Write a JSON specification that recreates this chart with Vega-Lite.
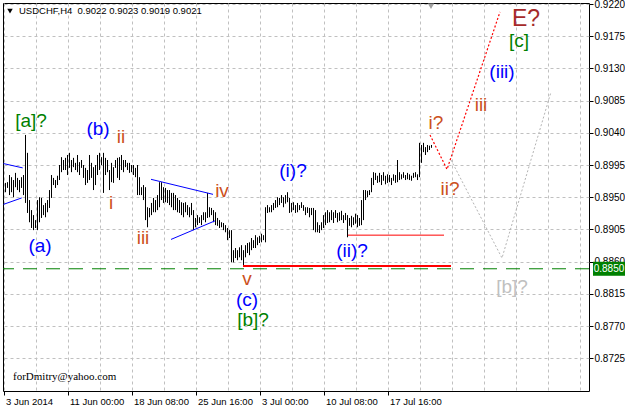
{
"$schema":"https://vega.github.io/schema/vega-lite/v6.json",
"width":586,"height":388,
"padding":{"left":3,"top":3,"right":36,"bottom":16},
"autosize":{"type":"none"},
"background":"white",
"config":{"view":{"stroke":"black","strokeWidth":1}},
"resolve":{"axis":{"x":"independent","y":"independent"},"scale":{"color":"independent"}},
"datasets":{
"bars":[
{"i":1,"h":0.8970,"l":0.8957},{"i":2,"h":0.8971,"l":0.8963},{"i":3,"h":0.8981,"l":0.8953},{"i":4,"h":0.8978,"l":0.8957},{"i":5,"h":0.8974,"l":0.8950},{"i":6,"h":0.8984,"l":0.8964},{"i":7,"h":0.8977,"l":0.8960},{"i":8,"h":0.8974,"l":0.8957},{"i":9,"h":0.8978,"l":0.8963},{"i":10,"h":0.8981,"l":0.8953},
{"i":11,"h":0.9037,"l":0.8942},{"i":12,"h":0.9012,"l":0.8928},{"i":13,"h":0.8946,"l":0.8915},{"i":14,"h":0.8932,"l":0.8907},{"i":15,"h":0.8925,"l":0.8904},{"i":16,"h":0.8918,"l":0.8907},{"i":17,"h":0.8946,"l":0.8904},{"i":18,"h":0.8950,"l":0.8915},{"i":19,"h":0.8949,"l":0.8921},{"i":20,"h":0.8939,"l":0.8925},
{"i":21,"h":0.8942,"l":0.8922},{"i":22,"h":0.8946,"l":0.8929},{"i":23,"h":0.8960,"l":0.8935},{"i":24,"h":0.8981,"l":0.8949},{"i":25,"h":0.8977,"l":0.8967},{"i":26,"h":0.8974,"l":0.8963},{"i":27,"h":0.8980,"l":0.8967},{"i":28,"h":0.8995,"l":0.8974},{"i":29,"h":0.9006,"l":0.8985},{"i":30,"h":0.9002,"l":0.8988},
{"i":31,"h":0.9005,"l":0.8988},{"i":32,"h":0.9009,"l":0.8981},{"i":33,"h":0.9012,"l":0.8991},{"i":34,"h":0.9002,"l":0.8985},{"i":35,"h":0.9005,"l":0.8992},{"i":36,"h":0.8998,"l":0.8988},{"i":37,"h":0.9009,"l":0.8985},{"i":38,"h":0.8999,"l":0.8981},{"i":39,"h":0.9002,"l":0.8991},{"i":40,"h":0.8995,"l":0.8977},
{"i":41,"h":0.8991,"l":0.8967},{"i":42,"h":0.8988,"l":0.8970},{"i":43,"h":0.9009,"l":0.8974},{"i":44,"h":0.8998,"l":0.8977},{"i":45,"h":0.8992,"l":0.8960},{"i":46,"h":0.8995,"l":0.8967},{"i":47,"h":0.9009,"l":0.8981},{"i":48,"h":0.9012,"l":0.8988},{"i":49,"h":0.9006,"l":0.8995},{"i":50,"h":0.9012,"l":0.8956},
{"i":51,"h":0.9005,"l":0.8981},{"i":52,"h":0.9002,"l":0.8985},{"i":53,"h":0.8988,"l":0.8960},{"i":54,"h":0.8998,"l":0.8971},{"i":55,"h":0.8992,"l":0.8970},{"i":56,"h":0.9002,"l":0.8991},{"i":57,"h":0.9005,"l":0.8977},{"i":58,"h":0.9006,"l":0.8974},{"i":59,"h":0.9009,"l":0.8988},{"i":60,"h":0.9002,"l":0.8985},
{"i":61,"h":0.9002,"l":0.8992},{"i":62,"h":0.8998,"l":0.8988},{"i":63,"h":0.8998,"l":0.8984},{"i":64,"h":0.8995,"l":0.8985},{"i":65,"h":0.8995,"l":0.8981},{"i":66,"h":0.8991,"l":0.8978},{"i":67,"h":0.8995,"l":0.8953},{"i":68,"h":0.8978,"l":0.8953},{"i":69,"h":0.8964,"l":0.8953},{"i":70,"h":0.8967,"l":0.8946},
{"i":71,"h":0.8964,"l":0.8918},{"i":72,"h":0.8936,"l":0.8908},{"i":73,"h":0.8935,"l":0.8922},{"i":74,"h":0.8942,"l":0.8925},{"i":75,"h":0.8949,"l":0.8929},{"i":76,"h":0.8946,"l":0.8929},{"i":77,"h":0.8953,"l":0.8932},{"i":78,"h":0.8971,"l":0.8936},{"i":79,"h":0.8971,"l":0.8946},{"i":80,"h":0.8964,"l":0.8942},
{"i":81,"h":0.8963,"l":0.8943},{"i":82,"h":0.8960,"l":0.8942},{"i":83,"h":0.8960,"l":0.8939},{"i":84,"h":0.8956,"l":0.8936},{"i":85,"h":0.8956,"l":0.8932},{"i":86,"h":0.8953,"l":0.8932},{"i":87,"h":0.8949,"l":0.8929},{"i":88,"h":0.8946,"l":0.8928},{"i":89,"h":0.8943,"l":0.8925},{"i":90,"h":0.8942,"l":0.8922},
{"i":91,"h":0.8943,"l":0.8929},{"i":92,"h":0.8939,"l":0.8925},{"i":93,"h":0.8936,"l":0.8922},{"i":94,"h":0.8942,"l":0.8925},{"i":95,"h":0.8932,"l":0.8904},{"i":96,"h":0.8921,"l":0.8908},{"i":97,"h":0.8925,"l":0.8911},{"i":98,"h":0.8922,"l":0.8914},{"i":99,"h":0.8925,"l":0.8911},{"i":100,"h":0.8929,"l":0.8918},
{"i":101,"h":0.8929,"l":0.8915},{"i":102,"h":0.8956,"l":0.8921},{"i":103,"h":0.8936,"l":0.8922},{"i":104,"h":0.8935,"l":0.8925},{"i":105,"h":0.8932,"l":0.8915},{"i":106,"h":0.8929,"l":0.8911},{"i":107,"h":0.8921,"l":0.8910},{"i":108,"h":0.8918,"l":0.8907},{"i":109,"h":0.8915,"l":0.8908},{"i":110,"h":0.8914,"l":0.8904},
{"i":111,"h":0.8911,"l":0.8901},{"i":112,"h":0.8907,"l":0.8890},{"i":113,"h":0.8904,"l":0.8893},{"i":114,"h":0.8904,"l":0.8859},{"i":115,"h":0.8876,"l":0.8859},{"i":116,"h":0.8879,"l":0.8865},{"i":117,"h":0.8876,"l":0.8862},{"i":118,"h":0.8880,"l":0.8866},{"i":119,"h":0.8883,"l":0.8862},{"i":120,"h":0.8876,"l":0.8854},
{"i":121,"h":0.8883,"l":0.8866},{"i":122,"h":0.8886,"l":0.8872},{"i":123,"h":0.8887,"l":0.8869},{"i":124,"h":0.8893,"l":0.8876},{"i":125,"h":0.8890,"l":0.8879},{"i":126,"h":0.8897,"l":0.8879},{"i":127,"h":0.8894,"l":0.8883},{"i":128,"h":0.8896,"l":0.8886},{"i":129,"h":0.8899,"l":0.8887},{"i":130,"h":0.8897,"l":0.8890},
{"i":131,"h":0.8936,"l":0.8887},{"i":132,"h":0.8939,"l":0.8928},{"i":133,"h":0.8936,"l":0.8929},{"i":134,"h":0.8939,"l":0.8929},{"i":135,"h":0.8942,"l":0.8932},{"i":136,"h":0.8946,"l":0.8935},{"i":137,"h":0.8950,"l":0.8936},{"i":138,"h":0.8949,"l":0.8939},{"i":139,"h":0.8953,"l":0.8942},{"i":140,"h":0.8950,"l":0.8936},
{"i":141,"h":0.8953,"l":0.8941},{"i":142,"h":0.8957,"l":0.8943},{"i":143,"h":0.8949,"l":0.8928},{"i":144,"h":0.8942,"l":0.8929},{"i":145,"h":0.8943,"l":0.8932},{"i":146,"h":0.8939,"l":0.8928},{"i":147,"h":0.8942,"l":0.8929},{"i":148,"h":0.8939,"l":0.8932},{"i":149,"h":0.8943,"l":0.8935},{"i":150,"h":0.8939,"l":0.8931},
{"i":151,"h":0.8936,"l":0.8925},{"i":152,"h":0.8936,"l":0.8928},{"i":153,"h":0.8935,"l":0.8922},{"i":154,"h":0.8935,"l":0.8925},{"i":155,"h":0.8935,"l":0.8904},{"i":156,"h":0.8932,"l":0.8901},{"i":157,"h":0.8915,"l":0.8901},{"i":158,"h":0.8911,"l":0.8900},{"i":159,"h":0.8915,"l":0.8904},{"i":160,"h":0.8925,"l":0.8907},
{"i":161,"h":0.8929,"l":0.8911},{"i":162,"h":0.8932,"l":0.8914},{"i":163,"h":0.8929,"l":0.8915},{"i":164,"h":0.8932,"l":0.8918},{"i":165,"h":0.8929,"l":0.8914},{"i":166,"h":0.8932,"l":0.8921},{"i":167,"h":0.8928,"l":0.8915},{"i":168,"h":0.8929,"l":0.8917},{"i":169,"h":0.8931,"l":0.8918},{"i":170,"h":0.8925,"l":0.8914},
{"i":171,"h":0.8928,"l":0.8918},{"i":172,"h":0.8925,"l":0.8894},{"i":173,"h":0.8921,"l":0.8910},{"i":174,"h":0.8924,"l":0.8908},{"i":175,"h":0.8922,"l":0.8911},{"i":176,"h":0.8927,"l":0.8913},{"i":177,"h":0.8925,"l":0.8908},{"i":178,"h":0.8921,"l":0.8910},{"i":179,"h":0.8946,"l":0.8911},{"i":180,"h":0.8960,"l":0.8918},
{"i":181,"h":0.8960,"l":0.8946},{"i":182,"h":0.8959,"l":0.8950},{"i":183,"h":0.8960,"l":0.8953},{"i":184,"h":0.8977,"l":0.8957},{"i":185,"h":0.8985,"l":0.8967},{"i":186,"h":0.8984,"l":0.8974},{"i":187,"h":0.8980,"l":0.8970},{"i":188,"h":0.8984,"l":0.8971},{"i":189,"h":0.8981,"l":0.8967},{"i":190,"h":0.8985,"l":0.8973},
{"i":191,"h":0.8980,"l":0.8968},{"i":192,"h":0.8982,"l":0.8970},{"i":193,"h":0.8981,"l":0.8971},{"i":194,"h":0.8977,"l":0.8967},{"i":195,"h":0.8982,"l":0.8973},{"i":196,"h":0.8981,"l":0.8970},{"i":197,"h":0.9002,"l":0.8971},{"i":198,"h":0.8985,"l":0.8974},{"i":199,"h":0.8982,"l":0.8975},{"i":200,"h":0.8985,"l":0.8977},
{"i":201,"h":0.8981,"l":0.8974},{"i":202,"h":0.8984,"l":0.8975},{"i":203,"h":0.8982,"l":0.8974},{"i":204,"h":0.8980,"l":0.8973},{"i":205,"h":0.8984,"l":0.8977},{"i":206,"h":0.8985,"l":0.8978},{"i":207,"h":0.8982,"l":0.8974},{"i":208,"h":0.9026,"l":0.8978},{"i":209,"h":0.9023,"l":0.8998},{"i":210,"h":0.9026,"l":0.9013},
{"i":211,"h":0.9020,"l":0.9009},{"i":212,"h":0.9023,"l":0.9013},{"i":213,"h":0.9022,"l":0.9016},{"i":214,"h":0.9023,"l":0.9019}
],
"labels":[
{"i":13.75,"p":0.9057,"t":"[a]?","d":"primary"},
{"i":47.25,"p":0.9045,"t":"(b)","d":"intermediate"},
{"i":58.75,"p":0.9034,"t":"ii","d":"minor"},
{"i":53.75,"p":0.8942,"t":"i","d":"minor"},
{"i":18.25,"p":0.8882,"t":"(a)","d":"intermediate"},
{"i":69.75,"p":0.8893,"t":"iii","d":"minor"},
{"i":109.25,"p":0.8959,"t":"iv","d":"minor"},
{"i":121.75,"p":0.8836,"t":"v","d":"minor"},
{"i":121.75,"p":0.8806,"t":"(c)","d":"intermediate"},
{"i":124.75,"p":0.8778,"t":"[b]?","d":"primary"},
{"i":144.75,"p":0.8987,"t":"(i)?","d":"intermediate"},
{"i":174.25,"p":0.8875,"t":"(ii)?","d":"intermediate"},
{"i":216.25,"p":0.9054,"t":"i?","d":"minor"},
{"i":223.25,"p":0.8962,"t":"ii?","d":"minor"},
{"i":238.75,"p":0.9079,"t":"iii","d":"minor"},
{"i":249.25,"p":0.9125,"t":"(iii)","d":"intermediate"},
{"i":257.75,"p":0.9168,"t":"[c]","d":"primary"},
{"i":254.25,"p":0.8825,"t":"[b]?","d":"alternate"}
],
"big":[{"i":261.25,"p":0.9199,"t":"E?"}],
"tri":[
{"k":"t1u","i":0,"p":0.8997},{"k":"t1u","i":9.6,"p":0.8991},
{"k":"t1l","i":0,"p":0.8940},{"k":"t1l","i":9.1,"p":0.8949},
{"k":"t2u","i":73.75,"p":0.8975},{"k":"t2u","i":104.75,"p":0.8954},
{"k":"t2l","i":83.75,"p":0.8891},{"k":"t2l","i":105.75,"p":0.8917}
],
"lowlevel":[{"i":119.75,"p":0.8854},{"i":223.75,"p":0.8854}],
"midlevel":[{"i":172.25,"p":0.8897},{"i":220.25,"p":0.8897}],
"proj":[{"i":213.25,"p":0.9037},{"i":221.75,"p":0.8989},{"i":248.25,"p":0.9209}],
"alt":[{"i":223.75,"p":0.9002},{"i":249.25,"p":0.8865},{"i":273.75,"p":0.9097}],
"support":[{"p":0.885}],
"price":[{"i":302.75,"p":0.885,"t":"0.8850"}],
"title":[{"i":7.75,"p":0.9210,"t":"USDCHF,H4\u00a0 0.9022 0.9023 0.9019 0.9021"}],
"sign":[{"i":4.75,"p":0.8699,"t":"forDmitry@yahoo.com"}],
"menu":[{"i":3.25,"p":0.9210}],
"shift":[{"i":213.75,"p":0.9217}]
},
"layer":[
{"data":{"name":"bars"},
 "mark":{"type":"rule","color":"black","strokeWidth":1},
 "encoding":{
  "x":{"field":"i","type":"quantitative","scale":{"domain":[-0.25,292.75],"nice":false,"zero":false},
       "axis":{"orient":"bottom","values":[0,16,32,48,64,80,96,112,128,144,160,176,192,208,224,240,256,272,288],"grid":true,"gridColor":"#c0c0c0","gridDash":[3,3],"labels":false,"ticks":false,"domain":false,"title":null}},
  "y":{"field":"h","type":"quantitative","scale":{"domain":[0.86792,0.92214],"nice":false,"zero":false},
       "axis":{"orient":"right","values":[0.8725,0.877,0.8815,0.886,0.8905,0.895,0.8995,0.904,0.9085,0.913,0.9175,0.922],"format":".4f","grid":true,"gridColor":"#c0c0c0","gridDash":[3,3],"domain":false,"ticks":true,"tickSize":4,"tickColor":"black","labelFont":"Liberation Sans","labelFontSize":10,"labelColor":"black","labelPadding":1,"labelFlush":false,"labelOverlap":false,"labelBound":false,"title":null}},
  "y2":{"field":"l"}
 }},
{"data":{"name":"support"},
 "mark":{"type":"rule","color":"#008000","strokeWidth":1,"strokeDash":[14,9]},
 "encoding":{"y":{"field":"p","type":"quantitative","axis":null}}},
{"data":{"name":"tri"},
 "mark":{"type":"line","color":"#0000ff","strokeWidth":1},
 "encoding":{"x":{"field":"i","type":"quantitative","axis":null},"y":{"field":"p","type":"quantitative","axis":null},"detail":{"field":"k"}}},
{"data":{"name":"lowlevel"},
 "mark":{"type":"line","color":"#ff0000","strokeWidth":2},
 "encoding":{"x":{"field":"i","type":"quantitative","axis":null},"y":{"field":"p","type":"quantitative","axis":null}}},
{"data":{"name":"midlevel"},
 "mark":{"type":"line","color":"#ff0000","strokeWidth":1},
 "encoding":{"x":{"field":"i","type":"quantitative","axis":null},"y":{"field":"p","type":"quantitative","axis":null}}},
{"data":{"name":"proj"},
 "mark":{"type":"line","color":"#ff0000","strokeWidth":1.2,"strokeDash":[2,2]},
 "encoding":{"x":{"field":"i","type":"quantitative","axis":null},"y":{"field":"p","type":"quantitative","axis":null}}},
{"data":{"name":"alt"},
 "mark":{"type":"line","color":"#b4b4b4","strokeWidth":1,"strokeDash":[2,2]},
 "encoding":{"x":{"field":"i","type":"quantitative","axis":null},"y":{"field":"p","type":"quantitative","axis":null}}},
{"data":{"name":"labels"},
 "mark":{"type":"text","font":"Liberation Sans","fontSize":19,"align":"center","baseline":"middle"},
 "encoding":{
  "x":{"field":"i","type":"quantitative",
       "axis":{"orient":"bottom","values":[0,32,64,96,128,160,192],"labelExpr":"['3 Jun 2014','11 Jun 00:00','18 Jun 08:00','25 Jun 16:00','3 Jul 00:00','10 Jul 08:00','17 Jul 16:00'][round(datum.value/32)]","grid":false,"domain":false,"ticks":true,"tickSize":4,"tickColor":"black","labelAlign":"left","labelBaseline":"top","labelPadding":1,"labelOffset":2,"labelFont":"Liberation Sans","labelFontSize":9.5,"labelColor":"black","labelFlush":false,"labelOverlap":false,"title":null}},
  "y":{"field":"p","type":"quantitative","axis":null},
  "text":{"field":"t"},
  "color":{"field":"d","type":"nominal","scale":{"domain":["primary","intermediate","minor","alternate"],"range":["#008000","#0000ff","#cc5020","#c0c0c0"]},"legend":null}
 }},
{"data":{"name":"big"},
 "mark":{"type":"text","font":"Liberation Sans","fontSize":23,"align":"center","baseline":"middle","color":"#a52a2a"},
 "encoding":{"x":{"field":"i","type":"quantitative","axis":null},"y":{"field":"p","type":"quantitative","axis":null},"text":{"field":"t"}}},
{"data":{"name":"title"},
 "mark":{"type":"text","font":"Liberation Sans","fontSize":9.5,"align":"left","baseline":"middle","color":"black"},
 "encoding":{"x":{"field":"i","type":"quantitative","axis":null},"y":{"field":"p","type":"quantitative","axis":null},"text":{"field":"t"}}},
{"data":{"name":"sign"},
 "mark":{"type":"text","font":"Liberation Serif","fontSize":11,"align":"left","baseline":"middle","color":"black"},
 "encoding":{"x":{"field":"i","type":"quantitative","axis":null},"y":{"field":"p","type":"quantitative","axis":null},"text":{"field":"t"}}},
{"data":{"name":"menu"},
 "mark":{"type":"point","shape":"triangle-down","filled":true,"size":30,"opacity":1,"color":"black"},
 "encoding":{"x":{"field":"i","type":"quantitative","axis":null},"y":{"field":"p","type":"quantitative","axis":null}}},
{"data":{"name":"shift"},
 "mark":{"type":"point","shape":"triangle-down","filled":true,"size":40,"opacity":1,"color":"#a0a0a0"},
 "encoding":{"x":{"field":"i","type":"quantitative","axis":null},"y":{"field":"p","type":"quantitative","axis":null}}},
{"data":{"name":"price"},
 "mark":{"type":"point","shape":"M-1,-0.4375H1V0.4375H-1Z","filled":true,"size":1024,"color":"#008000","opacity":1},
 "encoding":{"x":{"field":"i","type":"quantitative","axis":null},"y":{"field":"p","type":"quantitative","axis":null}}},
{"data":{"name":"price"},
 "mark":{"type":"text","font":"Liberation Sans","fontSize":10,"align":"center","baseline":"middle","color":"white"},
 "encoding":{"x":{"field":"i","type":"quantitative","axis":null},"y":{"field":"p","type":"quantitative","axis":null},"text":{"field":"t"}}}
]
}
